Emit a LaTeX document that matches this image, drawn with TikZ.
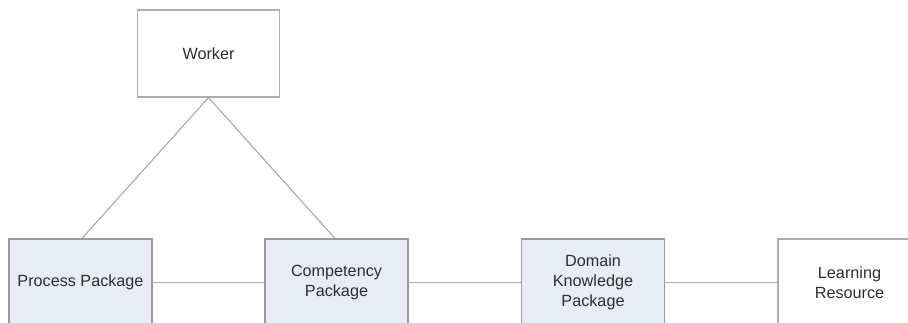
\documentclass[tikz,border=0pt]{standalone}
\usepackage{fontspec}
\setmainfont{Liberation Sans}
\definecolor{edge}{HTML}{A8A8A8}
\definecolor{border}{HTML}{9A9A9A}
\definecolor{pkg}{HTML}{E8ECF7}
\definecolor{txt}{HTML}{2E2E2E}
\begin{document}
\begin{tikzpicture}[x=1pt,y=-1pt,
  box/.style={draw=border,line width=1.2pt,minimum width=143pt,minimum height=87pt,inner sep=0pt,
     align=center,font=\fontsize{16.2pt}{19.8pt}\selectfont,text=txt},
  pkgbox/.style={box,fill=pkg},
  plainbox/.style={box,fill=white,draw=border!80},
  link/.style={draw=edge,line width=1.1pt}]
\useasboundingbox (0,0) rectangle (908,322);
\clip (0,0) rectangle (908,322);
\fill[white] (0,0) rectangle (908,322);
\node[plainbox,minimum width=142pt] (worker) at (208.5,53.5) {Worker};
\node[pkgbox] (process) at (80.5,282.5) {Process Package};
\node[pkgbox] (comp) at (336.5,282.5) {Competency\\Package};
\node[pkgbox] (domain) at (593,282.5) {Domain\\Knowledge\\Package};
\node[plainbox] (learn) at (849.5,282.5) {Learning\\Resource};
\coordinate (apex) at (worker.south);
\draw[link] (apex) -- ([xshift=1.5pt]process.north);
\draw[link] (apex) -- ([xshift=-1.5pt]comp.north);
\draw[link] (process.east) -- (comp.west);
\draw[link] (comp.east) -- (domain.west);
\draw[link] (domain.east) -- (learn.west);
\end{tikzpicture}
\end{document}
